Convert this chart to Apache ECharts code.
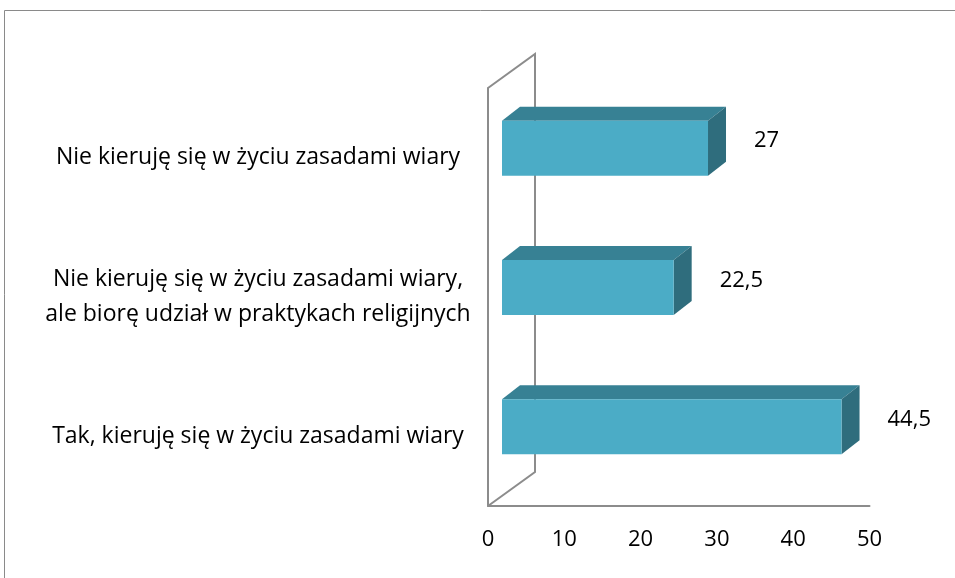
<!DOCTYPE html>
<html><head><meta charset="utf-8">
<script src="https://cdn.jsdelivr.net/npm/echarts@6/dist/echarts.min.js"></script>
<style>html,body{margin:0;padding:0;background:#fff}#chart{width:955px;height:578px}</style>
</head><body><div id="chart"></div>
<script>
const categories = [
  "Nie kieruję się w życiu zasadami wiary",
  "Nie kieruję się w życiu zasadami wiary,\nale biorę udział w praktykach religijnych",
  "Tak, kieruję się w życiu zasadami wiary"
];
const values = [27, 22.5, 44.5];
const tickMin = 0, tickMax = 50, tickStep = 10;

const FONT = '"Open Sans"';
const frontColor = '#4BACC6', topColor = '#378194', sideColor = '#2F6D7D';
const wallColor = '#8C8C8C';
const fmt = v => String(v).replace('.', ',');

const barData = values.map((v, i) => [v, i]);

function renderWalls(params, api) {
  const cs = params.coordSys;
  const dx = 47, dy = -34;
  const x = cs.x, y = cs.y, h = cs.height;
  const st = { stroke: wallColor, lineWidth: 2, fill: null };
  return { type: 'group', children: [
    { type: 'polyline', shape: { points: [[x, y], [x + dx, y + dy], [x + dx, y + h + dy], [x, y + h]] }, style: st }
  ]};
}

function renderBar(params, api) {
  const val = api.value(0), idx = api.value(1);
  const p0 = api.coord([0, idx]);
  const p1 = api.coord([val, idx]);
  const band = api.size([0, 1])[1];
  const h = band * 0.395;
  const ox = 14, oy = -9.5, dx = 18, dy = -14;
  const x0 = p0[0] + ox, x1 = p1[0] + ox;
  const yc = p0[1] + oy, yt = yc - h / 2, yb = yc + h / 2;
  return { type: 'group', children: [
    { type: 'polygon', shape: { points: [[x0, yt], [x1, yt], [x1 + dx, yt + dy], [x0 + dx, yt + dy]] }, style: { fill: topColor } },
    { type: 'polygon', shape: { points: [[x1, yt], [x1 + dx, yt + dy], [x1 + dx, yb + dy], [x1, yb]] }, style: { fill: sideColor } },
    { type: 'rect', shape: { x: x0, y: yt, width: x1 - x0, height: yb - yt }, style: { fill: frontColor } },
    { type: 'text', style: { text: fmt(val), x: x1 + dx + 28, y: yc + dy / 2, align: 'left', verticalAlign: 'middle',
      fill: '#000', font: '22px ' + FONT } }
  ]};
}

const chart = echarts.init(document.getElementById('chart'), null, { renderer: 'canvas' });
chart.setOption({
  animation: false,
  backgroundColor: '#fff',
  textStyle: { fontFamily: 'Open Sans' },
  graphic: [{ type: 'rect', shape: { x: 4.5, y: 10.5, width: 1000, height: 1000 }, style: { fill: null, stroke: '#8A8A8A', lineWidth: 1 }, z: 0 }],
  grid: { left: 488, top: 88, right: 85.5, bottom: 72, containLabel: false },
  xAxis: {
    type: 'value', min: tickMin, max: tickMax, interval: tickStep,
    axisLine: { show: true, lineStyle: { color: wallColor, width: 2 } },
    axisTick: { show: false }, splitLine: { show: false },
    axisLabel: { color: '#000', fontSize: 22, fontFamily: 'Open Sans', margin: 23 }
  },
  yAxis: {
    type: 'category', data: categories, inverse: true,
    axisLine: { show: true, lineStyle: { color: wallColor, width: 2 } },
    axisTick: { show: false }, splitLine: { show: false },
    axisLabel: { color: '#000', fontSize: 23, fontFamily: 'Open Sans', align: 'center', margin: 230, lineHeight: 35, padding: [6, 0, 0, 0] }
  },
  series: [
    { type: 'custom', renderItem: renderWalls, data: [[0, 0]], encode: { x: 0, y: 1 }, z: 1, silent: true },
    { type: 'custom', renderItem: renderBar, data: barData, encode: { x: 0, y: 1 }, z: 2 }
  ]
});
</script></body></html>
